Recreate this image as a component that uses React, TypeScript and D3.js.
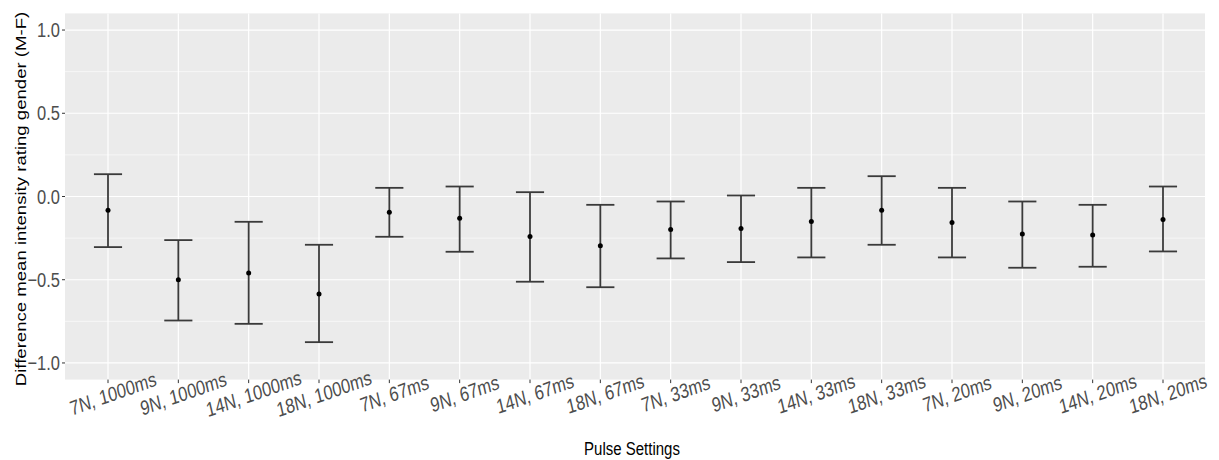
import React from "react";
import * as d3 from "d3";

// pulse settings (x categories)
const labels = [
  "7N, 1000ms", "9N, 1000ms", "14N, 1000ms", "18N, 1000ms",
  "7N, 67ms", "9N, 67ms", "14N, 67ms", "18N, 67ms",
  "7N, 33ms", "9N, 33ms", "14N, 33ms", "18N, 33ms",
  "7N, 20ms", "9N, 20ms", "14N, 20ms", "18N, 20ms",
];

// difference M-F, mean and error bar ends
const means = [-0.082, -0.5, -0.46, -0.585, -0.094, -0.13, -0.24, -0.296, -0.198, -0.192, -0.15, -0.082, -0.156, -0.226, -0.232, -0.138];
const upper = [0.134, -0.262, -0.152, -0.29, 0.052, 0.06, 0.026, -0.05, -0.03, 0.006, 0.052, 0.122, 0.052, -0.03, -0.05, 0.06];
const lower = [-0.304, -0.745, -0.765, -0.875, -0.242, -0.332, -0.512, -0.545, -0.372, -0.394, -0.366, -0.29, -0.366, -0.428, -0.422, -0.33];

const yTicks = [-1.0, -0.5, 0.0, 0.5, 1.0];
const yMinor = [-0.75, -0.25, 0.25, 0.75];

const xTitle = "Pulse Settings";
const yTitle = "Difference mean intensity rating gender (M-F)";

export default function App() {
  const width = 1219;
  const height = 460;
  const panel = { left: 65, right: 1205, top: 13.4, bottom: 379.6 };
  const stretch = 1.24; // text in the reference is taller than wide
  const font = "'Liberation Sans', Arial, sans-serif";

  const x = d3.scalePoint<string>().domain(labels).range([108, 1163]);
  const y = d3.scaleLinear().domain([-1.1, 1.1]).range([panel.bottom, panel.top]);
  const step = x.step();
  const capHalf = step * 0.4 / 2;

  const rows = labels.map((l, i) => ({ l, m: means[i], hi: upper[i], lo: lower[i] }));

  return (
    <svg width={width} height={height} style={{ position: "absolute", left: 0, top: 0, background: "white" }}>
      <rect x={panel.left} y={panel.top} width={panel.right - panel.left} height={panel.bottom - panel.top} fill="#EBEBEB" />

      {/* grid */}
      {yMinor.map(v => (
        <line key={"mi" + v} x1={panel.left} x2={panel.right} y1={y(v)} y2={y(v)} stroke="white" strokeWidth={0.6} />
      ))}
      {yTicks.map(v => (
        <line key={"ma" + v} x1={panel.left} x2={panel.right} y1={y(v)} y2={y(v)} stroke="white" strokeWidth={1.2} />
      ))}
      {labels.map(l => (
        <line key={"gx" + l} x1={x(l)} x2={x(l)} y1={panel.top} y2={panel.bottom} stroke="white" strokeWidth={1.2} />
      ))}

      {/* error bars */}
      <g stroke="#3a3a3a" strokeWidth={1.8} fill="none">
        {rows.map(d => {
          const cx = x(d.l)!;
          return (
            <g key={"eb" + d.l}>
              <line x1={cx} x2={cx} y1={y(d.hi)} y2={y(d.lo)} />
              <line x1={cx - capHalf} x2={cx + capHalf} y1={y(d.hi)} y2={y(d.hi)} />
              <line x1={cx - capHalf} x2={cx + capHalf} y1={y(d.lo)} y2={y(d.lo)} />
            </g>
          );
        })}
      </g>
      {rows.map(d => (
        <circle key={"pt" + d.l} cx={x(d.l)} cy={y(d.m)} r={2.5} fill="black" />
      ))}

      {/* y axis */}
      {yTicks.map(v => (
        <g key={"yt" + v}>
          <line x1={panel.left - 3} x2={panel.left} y1={y(v)} y2={y(v)} stroke="#333" strokeWidth={1} />
          <text
            transform={`translate(${panel.left - 5},${y(v)}) scale(1,${stretch})`}
            textAnchor="end"
            dominantBaseline="central"
            fontFamily={font}
            fontSize={16.5}
            fill="#4D4D4D"
          >
            {d3.format(".1f")(v)}
          </text>
        </g>
      ))}

      {/* x axis */}
      {labels.map(l => (
        <g key={"xt" + l}>
          <line x1={x(l)} x2={x(l)} y1={panel.bottom} y2={panel.bottom + 3.5} stroke="#333" strokeWidth={1} />
          <text
            transform={`translate(${x(l)! + 5},${panel.bottom + 14}) scale(1,${stretch}) rotate(-16)`}
            textAnchor="middle"
            dominantBaseline="central"
            fontFamily={font}
            fontSize={16.5}
            fill="#4D4D4D"
          >
            {l}
          </text>
        </g>
      ))}

      <text
        transform={`translate(632,449) scale(1,${stretch})`}
        textAnchor="middle"
        dominantBaseline="central"
        fontFamily={font}
        fontSize={15}
        fill="black"
      >
        {xTitle}
      </text>
      <text
        transform={`translate(21,199) scale(1,${stretch}) rotate(-90)`}
        textAnchor="middle"
        dominantBaseline="central"
        fontFamily={font}
        fontSize={15}
        fill="black"
      >
        {yTitle}
      </text>
    </svg>
  );
}
